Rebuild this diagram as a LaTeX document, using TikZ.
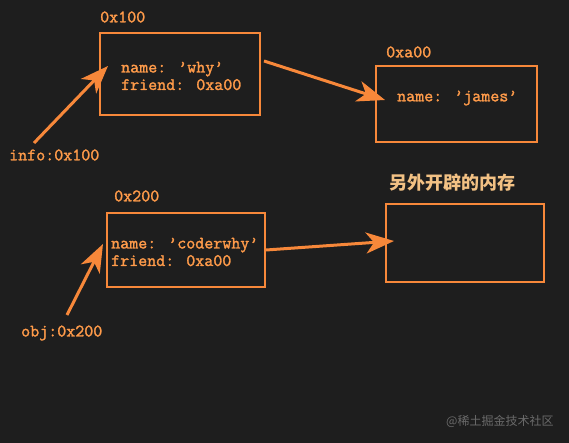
\documentclass[tikz,border=0pt]{standalone}
\usepackage{fontspec}
\newfontfamily\cjk{Noto Sans CJK SC}
\newfontfamily\monob{Latin Modern Mono}[FakeBold=1.6]
\usetikzlibrary{arrows.meta}
\definecolor{bgc}{HTML}{1E1E1E}
\definecolor{orng}{HTML}{F7883A}
\definecolor{txto}{HTML}{FF9B4A}
\definecolor{cjko}{HTML}{F2C184}
\definecolor{wm}{HTML}{6A6A6A}
\begin{document}
\begin{tikzpicture}[x=1pt,y=-1pt,
  mem/.style={draw=orng,line width=1.5pt},
  lbl/.style={text=txto,font=\monob\fontsize{17.5}{18}\selectfont,inner sep=0pt,anchor=west},
  body/.style={text=txto,font=\monob\fontsize{17.5}{17.5}\selectfont,inner sep=0pt,anchor=west,align=left},
  ptr/.style={draw=orng,line width=3pt,-{Stealth[length=28pt,width=21pt,inset=8pt]}}]
\fill[bgc] (0,0) rectangle (569,443);
\useasboundingbox (0,0) rectangle (569,443);
% boxes
\draw[mem] (100,33) rectangle (260,115);
\draw[mem] (376,66) rectangle (537,142);
\draw[mem] (107,213) rectangle (265,287);
\draw[mem] (386,204) rectangle (544,282);
% labels
\node[lbl] (l1) at (100,17) {0x100};
\node[lbl] (l2) at (386,52) {0xa00};
\node[lbl] (l3) at (114,196) {0x200};
\node[lbl,text=cjko,font=\cjk\bfseries\fontsize{18}{20}\selectfont] (l4) at (389,183) {另外开辟的内存};
\node[body] (t1) at (121,76) {name: ’why’\\friend: 0xa00};
\node[body] (t2) at (397,98) {name: ’james’};
\node[body] (t3) at (111,252) {name: ’coderwhy’\\friend: 0xa00};
\node[lbl] (info) at (9,155) {info:0x100};
\node[lbl] (obj) at (21,333) {obj:0x200};
\node[text=wm,font=\cjk\fontsize{12}{14}\selectfont,inner sep=0pt,anchor=west] (wmk) at (446,421) {@稀土掘金技术社区};
% pointers
\coordinate (a1s) at (34,143);
\coordinate (a1e) at (108,66);
\coordinate (a2s) at (264,61);
\coordinate (a2e) at (385,100);
\coordinate (a3s) at (67,315);
\coordinate (a3e) at (103,244);
\coordinate (a4s) at (266,250);
\coordinate (a4e) at (394,241);
\draw[ptr] (a1s) -- (a1e);
\draw[ptr] (a2s) -- (a2e);
\draw[ptr] (a3s) -- (a3e);
\draw[ptr] (a4s) -- (a4e);
\end{tikzpicture}
\end{document}
